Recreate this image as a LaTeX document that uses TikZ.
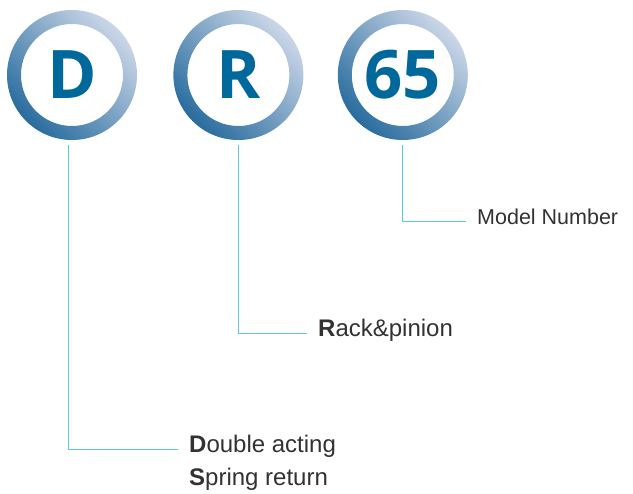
\documentclass[tikz,border=0pt]{standalone}
\usepackage{fontspec}
\setmainfont{Liberation Sans}
\newfontfamily\ringfont{Open Sans}
\usetikzlibrary{positioning}
\definecolor{ringdark}{RGB}{40,108,158}
\definecolor{ringlight}{RGB}{204,215,232}
\definecolor{letterblue}{RGB}{0,104,154}
\definecolor{leadcyan}{RGB}{96,198,230}
\definecolor{labelgray}{RGB}{50,50,50}
\tikzset{
  code/.style={circle, minimum size=130pt, inner sep=0pt, text=letterblue,
    font=\ringfont\bfseries\fontsize{67}{67}\selectfont},
  lead/.style={draw=leadcyan, line width=0.8pt, shorten >=11pt},
  note/.style={anchor=west, inner sep=0pt, text=labelgray, text height=.72em,
    text depth=0pt, font=\fontsize{24}{28}\selectfont},
}
\begin{document}
\begin{tikzpicture}[x=1pt, y=-1pt]
	\useasboundingbox (0,0) rectangle (633,494);
	% code letters
	\node[code] (d) at (72,75) {D};
	\node[code, right=36pt of d] (r) {R};
	\node[code, right=34pt of r] (num) {65};
	\foreach \n in {d,r,num}
		\shade[even odd rule, top color=ringlight, bottom color=ringdark, shading angle=-45]
			(\n.center) circle[radius=65pt] (\n.center) circle[radius=51pt];
	% labels
	\node[note, font=\fontsize{21.5}{26}\selectfont] (mnum) at (477,221) {Model Number};
	\node[note] (rack) at (318,333) {\textbf{R}ack\&pinion};
	\node[note] (dbl) at (189,449) {\textbf{D}ouble acting};
	\node[note] (spr) at ([yshift=-33pt]dbl.west) {\textbf{S}pring return};
	% leaders
	\draw[lead] ([yshift=-5pt]num.south) |- (mnum.west);
	\draw[lead] ([yshift=-5pt]r.south) |- (rack.west);
	\draw[lead] ([xshift=-4pt,yshift=-5pt]d.south) |- (dbl.west);
\end{tikzpicture}
\end{document}
